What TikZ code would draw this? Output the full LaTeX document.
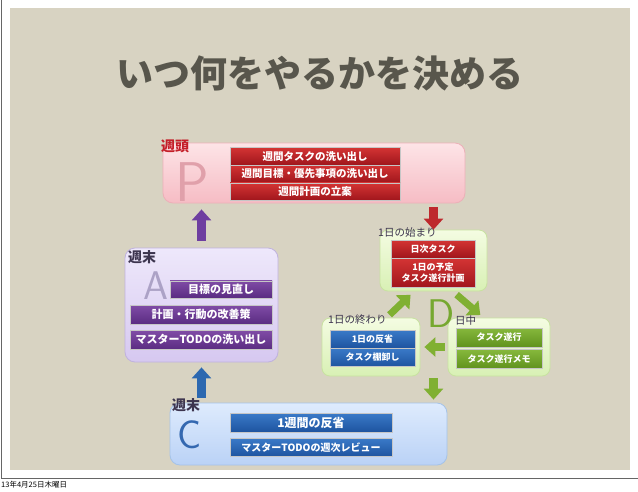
\documentclass[tikz,border=0pt]{standalone}
\usepackage{fontspec}
\setmainfont{Noto Sans CJK JP}
\usetikzlibrary{arrows.meta, positioning}
\definecolor{paper}{RGB}{216,211,194}
\definecolor{inkgray}{RGB}{88,86,76}
\definecolor{pline}{RGB}{236,176,184}
\definecolor{ptop}{RGB}{253,228,231}
\definecolor{pbot}{RGB}{246,188,196}
\definecolor{aline}{RGB}{192,178,222}
\definecolor{atop}{RGB}{238,232,251}
\definecolor{abot}{RGB}{214,200,240}
\definecolor{cline}{RGB}{165,195,232}
\definecolor{ctop}{RGB}{222,235,253}
\definecolor{cbot}{RGB}{186,210,246}
\definecolor{dline}{RGB}{200,226,160}
\definecolor{dtop}{RGB}{244,252,226}
\definecolor{dbot}{RGB}{216,240,180}
\definecolor{redtop}{RGB}{212,52,52}
\definecolor{redbot}{RGB}{160,22,28}
\definecolor{purtop}{RGB}{128,76,166}
\definecolor{purbot}{RGB}{90,44,130}
\definecolor{blutop}{RGB}{58,122,200}
\definecolor{blubot}{RGB}{30,84,160}
\definecolor{grntop}{RGB}{134,184,60}
\definecolor{grnbot}{RGB}{96,146,30}
\definecolor{redlbl}{RGB}{196,30,40}
\definecolor{darklbl}{RGB}{60,52,78}
\definecolor{pletter}{RGB}{224,160,170}
\definecolor{aletter}{RGB}{172,162,198}
\definecolor{cletter}{RGB}{52,104,176}
\definecolor{dletter}{RGB}{118,168,48}
\definecolor{redarr}{RGB}{190,40,45}
\definecolor{purarr}{RGB}{110,62,160}
\definecolor{bluarr}{RGB}{44,104,176}
\definecolor{grnarr}{RGB}{128,176,50}
\tikzset{
  card/.style={rectangle, rounded corners=10pt, line width=0.8pt, inner sep=0pt},
  pcard/.style={card, draw=pline, top color=ptop, bottom color=pbot},
  acard/.style={card, draw=aline, top color=atop, bottom color=abot},
  ccard/.style={card, draw=cline, top color=ctop, bottom color=cbot},
  dcard/.style={card, draw=dline, top color=dtop, bottom color=dbot, rounded corners=8pt},
  bar/.style={rectangle, inner sep=0pt, text=white, align=center,
    draw=white!55!gray, line width=0.3pt, font=\bfseries},
  redbar/.style={bar, top color=redtop, bottom color=redbot},
  purbar/.style={bar, top color=purtop, bottom color=purbot},
  blubar/.style={bar, top color=blutop, bottom color=blubot},
  grnbar/.style={bar, top color=grntop, bottom color=grnbot},
  lbl/.style={inner sep=0pt, font=\fontsize{14}{14}\selectfont\bfseries},
  daylbl/.style={inner sep=0pt, font=\fontsize{10.5}{12}\selectfont, text=darklbl},
  bigletter/.style={inner sep=0pt, font=\sffamily\fontsize{40}{40}\selectfont},
  blockarrow/.style={line width=8.5pt, -{Triangle[width=19pt,length=11pt]}}
}
\begin{document}
\begin{tikzpicture}[x=1pt, y=-1pt]
  \useasboundingbox (0,0) rectangle (638,491);
  % slide and paper
  \fill[white] (0,0) rectangle (638,491);
  \fill[paper] (10,8) rectangle (630,470);
  \draw[gray!80!black, line width=0.8pt] (1,0) -- (1,478) -- (638,478);
  \node[inner sep=0pt, anchor=west, font=\fontsize{7.5}{8}\selectfont] (date) at (1,485) {13年4月25日木曜日};

  % title
  \node[inner sep=0pt, text=inkgray, font=\fontsize{37}{38}\selectfont\bfseries] (title) at (320,73) {いつ何をやるかを決める};

  % P
  \node[pcard, minimum width=302pt, minimum height=60pt] (P) at (314,173) {};
  \node[lbl, text=redlbl, anchor=north west] (Plbl) at (161,140) {週頭};
  \node[bigletter, text=pletter, font=\sffamily\fontsize{56}{56}\selectfont] (Pltr) at (192,182) {P};
  \node[redbar, minimum width=170pt, minimum height=17.5pt, font=\fontsize{10.5}{12}\selectfont\bfseries] (pbar1) at (315,156) {週間タスクの洗い出し};
  \node[redbar, minimum width=170pt, minimum height=17.5pt, font=\fontsize{10.5}{12}\selectfont\bfseries, below=0pt of pbar1] (pbar2) {週間目標・優先事項の洗い出し};
  \node[redbar, minimum width=170pt, minimum height=17.5pt, font=\fontsize{10.5}{12}\selectfont\bfseries, below=0pt of pbar2] (pbar3) {週間計画の立案};

  % A
  \node[acard, minimum width=153pt, minimum height=114pt] (A) at (201.5,305) {};
  \node[lbl, text=darklbl, anchor=north west] (Albl) at (128,250) {週末};
  \node[bigletter, text=aletter] (Altr) at (156,286) {A};
  \node[purbar, minimum width=142pt, minimum height=19pt, font=\fontsize{11}{12}\selectfont\bfseries] (abar2) at (201,314.5) {計画・行動の改善策};
  \node[purbar, minimum width=142pt, minimum height=19pt, font=\fontsize{11}{12}\selectfont\bfseries, below=6pt of abar2] (abar3) {マスターTODOの洗い出し};
  \node[purbar, minimum width=102pt, minimum height=17pt, font=\fontsize{11}{12}\selectfont\bfseries, above=7pt of abar2.north east, anchor=south east] (abar1) {目標の見直し};

  % C
  \node[ccard, minimum width=277pt, minimum height=62pt] (C) at (308.5,434) {};
  \node[lbl, text=darklbl, anchor=north west] (Clbl) at (172,398) {週末};
  \node[bigletter, text=cletter] (Cltr) at (190,435) {C};
  \node[blubar, minimum width=162pt, minimum height=19pt, font=\fontsize{12}{13}\selectfont\bfseries] (cbar1) at (311,422.5) {1週間の反省};
  \node[blubar, minimum width=162pt, minimum height=18pt, font=\fontsize{10}{12}\selectfont\bfseries, below=6pt of cbar1] (cbar2) {マスターTODOの週次レビュー};

  % D
  \node[dcard, minimum width=107pt, minimum height=61pt] (dbegin) at (433.5,260.5) {};
  \node[dcard, minimum width=98pt, minimum height=58pt] (dend) at (371,347) {};
  \node[dcard, minimum width=102pt, minimum height=58pt] (dday) at (499,347) {};
  \node[daylbl, anchor=west] (dbeginlbl) at (378,233) {1日の始まり};
  \node[daylbl, anchor=west] (dendlbl) at (328,320) {1日の終わり};
  \node[daylbl, anchor=west] (ddaylbl) at (455,320) {日中};
  \node[bigletter, text=dletter] (Dltr) at (441,314) {D};
  \node[redbar, minimum width=84pt, minimum height=18pt, font=\fontsize{9}{11}\selectfont\bfseries] (dbar1) at (433,249) {日次タスク};
  \node[redbar, minimum width=84pt, minimum height=29pt, font=\fontsize{9}{11}\selectfont\bfseries, below=0pt of dbar1] (dbar2) {1日の予定\\タスク遂行計画};
  \node[blubar, minimum width=85pt, minimum height=18pt, font=\fontsize{9}{11}\selectfont\bfseries] (ebar1) at (372.5,339) {1日の反省};
  \node[blubar, minimum width=85pt, minimum height=18pt, font=\fontsize{9}{11}\selectfont\bfseries, below=0pt of ebar1] (ebar2) {タスク棚卸し};
  \node[grnbar, minimum width=86pt, minimum height=19pt, font=\fontsize{9}{11}\selectfont\bfseries] (gbar1) at (499,337.5) {タスク遂行};
  \node[grnbar, minimum width=86pt, minimum height=19pt, font=\fontsize{9}{11}\selectfont\bfseries, below=2pt of gbar1] (gbar2) {タスク遂行メモ};

  % arrows
  \draw[blockarrow, purarr, shorten <=7pt, shorten >=6pt] (A.north) -- (A.north |- P.south);
  \draw[blockarrow, redarr, shorten <=4pt] (P.south -| dbegin.north) -- (dbegin.north);
  \draw[blockarrow, bluarr, shorten <=5pt, shorten >=5pt] (C.north -| A.south) -- (A.south);
  \draw[blockarrow, grnarr, shorten <=2pt, shorten >=3pt] (dend.south -| dbegin.south) -- (C.north -| dbegin.south);
  \draw[blockarrow, grnarr, line width=7pt, shorten <=4pt, shorten >=5pt] (dend.62) -- (dbegin.238);
  \draw[blockarrow, grnarr, line width=7pt, shorten <=5pt, shorten >=4pt] (dbegin.302) -- (dday.118);
  \draw[blockarrow, grnarr, shorten <=3pt, shorten >=4pt] (dday.west) -- (dend.east);
\end{tikzpicture}
\end{document}
